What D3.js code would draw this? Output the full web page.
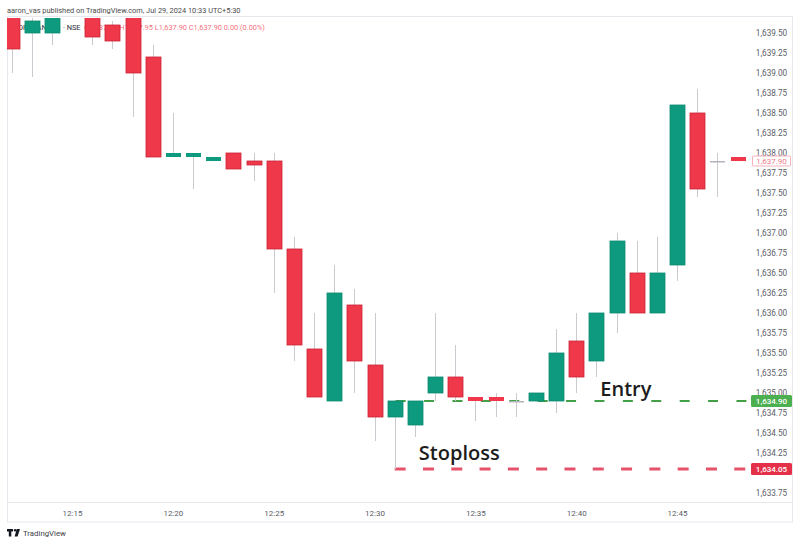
<!DOCTYPE html>
<html>
<head>
<meta charset="utf-8">
<script src="https://cdn.jsdelivr.net/npm/d3@7"></script>
<style>
  html, body { margin: 0; padding: 0; background: #ffffff; }
  svg { display: block; }
</style>
</head>
<body>
<svg id="chart" width="800" height="545"></svg>
<script>
// 1-minute bars
const times  = ["12:12","12:13","12:14","12:16","12:17","12:18","12:19","12:20","12:21","12:22",
                "12:23","12:24","12:25","12:26","12:27","12:28","12:29","12:30","12:31","12:32",
                "12:33","12:34","12:35","12:36","12:37","12:38","12:39","12:40","12:41","12:42",
                "12:43","12:44","12:45","12:46","12:47","12:48"];
const opens  = [1639.80,1639.50,1639.50,1639.80,1639.60,1639.80,1639.20,1637.95,1637.95,1637.90,
                1638.00,1637.90,1637.90,1636.80,1635.55,1634.90,1636.10,1635.35,1634.70,1634.60,
                1635.00,1635.20,1634.95,1634.95,1634.90,1634.90,1634.90,1635.65,1635.40,1636.00,
                1636.50,1636.00,1636.60,1638.50,1637.90,1637.95];
const highs  = [1639.85,1639.80,1639.85,1639.85,1639.65,1639.85,1639.35,1638.50,1638.00,1637.95,
                1638.00,1638.00,1638.00,1636.95,1636.00,1636.60,1636.30,1636.00,1634.90,1634.90,
                1636.00,1635.60,1634.95,1635.00,1635.00,1635.00,1635.80,1636.00,1636.00,1637.00,
                1636.90,1636.95,1638.60,1638.80,1638.00,1637.95];
const lows   = [1639.00,1638.95,1639.35,1639.35,1639.30,1638.45,1637.95,1637.95,1637.55,1637.90,
                1637.80,1637.65,1636.25,1635.40,1634.95,1634.90,1635.00,1634.40,1634.05,1634.45,
                1634.90,1634.90,1634.65,1634.70,1634.70,1634.90,1634.75,1635.00,1635.20,1635.75,
                1636.00,1636.00,1636.40,1637.45,1637.45,1637.90];
const closes = [1639.30,1639.65,1639.80,1639.45,1639.40,1639.00,1637.95,1638.00,1638.00,1637.95,
                1637.80,1637.85,1636.80,1635.60,1634.95,1636.25,1635.40,1634.70,1634.90,1634.90,
                1635.20,1634.95,1634.90,1634.90,1634.90,1635.00,1635.50,1635.20,1636.00,1636.90,
                1636.00,1636.50,1638.60,1637.55,1637.90,1637.90];

const timeTicks  = ["12:15","12:20","12:25","12:30","12:35","12:40","12:45"];
const priceTicks = [1633.75,1634.00,1634.25,1634.50,1634.75,1635.00,1635.25,1635.50,1635.75,1636.00,
                    1636.25,1636.50,1636.75,1637.00,1637.25,1637.50,1637.75,1638.00,1638.25,1638.50,
                    1638.75,1639.00,1639.25,1639.50];

// trade levels drawn on the chart
const levelNames  = ["Entry", "Stoploss"];
const levelPrices = [1634.90, 1634.05];
const levelStart  = "12:31";

const headerText = "aaron_vas published on TradingView.com, Jul 29, 2024 10:33 UTC+5:30";
const symbolText = "HDFCBANK · 1 · NSE";

// ---------------------------------------------------------------
const FONT = "Roboto, 'Liberation Sans', Arial, sans-serif";
const UP = "#0e9a7e", DOWN = "#f0384b", FLAT = "#b2b5be";
const UP_EDGE = "#0b8a70", DOWN_EDGE = "#c92535";

const parse = d3.timeParse("%H:%M");
const bars = times.map((t, i) => ({
  t: parse(t), o: opens[i], h: highs[i], l: lows[i], c: closes[i]
}));

const svg = d3.select("#chart");

const plot = { left: 7, top: 18, right: 750, bottom: 502 };

const x = d3.scaleTime()
  .domain([parse("12:15"), parse("12:45")])
  .range([72, 677]);
const y = d3.scaleLinear()
  .domain([1633.75, 1639.50])
  .range([493, 33]);

const step = x(parse("12:16")) - x(parse("12:15"));
const bodyW = Math.round(step * 0.75);

// frame and time-axis strip
svg.append("rect")
  .attr("x", 7.5).attr("y", 16.5)
  .attr("width", 785).attr("height", 505.5)
  .attr("fill", "none").attr("stroke", "#e6e8ee").attr("stroke-width", 1);
svg.append("line")
  .attr("x1", 7).attr("x2", 793).attr("y1", 502.5).attr("y2", 502.5)
  .attr("stroke", "#e6e8ee");

// publisher line
svg.append("text")
  .attr("x", 7).attr("y", 10).attr("dy", "0.35em")
  .attr("font-family", FONT).attr("font-size", 7.4).attr("fill", "#4a4a4a")
  .text(headerText);

// legend with the latest bar values
const last = bars[bars.length - 1], prev = bars[bars.length - 2];
const f2 = d3.format(",.2f");
const chg = last.c - prev.c;
const chgPct = chg / prev.c * 100;
const signed = v => (Math.abs(v) < 1e-9 ? "0.00" : d3.format(".2f")(v).replace("-", "\u2212"));
const legendColor = last.c >= last.o ? UP : DOWN;
const legend = svg.append("text")
  .attr("x", 13).attr("y", 27).attr("dy", "0.35em")
  .attr("font-family", FONT).attr("font-size", 7.4);
legend.append("tspan").attr("fill", "#2a2e39").text(symbolText);
legend.append("tspan").attr("x", 84).attr("fill", legendColor).attr("fill-opacity", 0.75)
  .text(`O${f2(last.o)}  H${f2(last.h)}  L${f2(last.l)}  C${f2(last.c)}  ${signed(chg)} (${signed(chgPct)}%)`);

// clip for the price pane
svg.append("clipPath").attr("id", "pane")
  .append("rect")
  .attr("x", plot.left).attr("y", plot.top)
  .attr("width", plot.right - plot.left).attr("height", plot.bottom - plot.top);

// level lines (beneath candles)
const levelColors = ["#43a047", "#e5526a"];
const levelWidths = [2.2, 3];
const levelDash   = ["10 18.4", "11 17.3"];
const x0 = x(parse(levelStart));
levelPrices.forEach((p, i) => {
  svg.append("line")
    .attr("x1", x0 + (i === 0 ? 1 : 0)).attr("x2", 751)
    .attr("y1", y(p)).attr("y2", y(p))
    .attr("stroke", levelColors[i])
    .attr("stroke-width", levelWidths[i])
    .attr("stroke-dasharray", levelDash[i]);
});

// candles
const pane = svg.append("g").attr("clip-path", "url(#pane)");
const candle = pane.selectAll("g.candle").data(bars).join("g").attr("class", "candle");
const cx = d => Math.round(x(d.t)) + 0.5;
const colorOf = d => d.c > d.o ? UP : (d.c < d.o ? DOWN : FLAT);
const edgeOf = d => d.c > d.o ? UP_EDGE : (d.c < d.o ? DOWN_EDGE : FLAT);

candle.append("line")
  .attr("x1", cx).attr("x2", cx)
  .attr("y1", d => y(d.h)).attr("y2", d => y(d.l))
  .attr("stroke", "#c9cbd1").attr("stroke-width", 1);

candle.append("rect")
  .attr("x", d => cx(d) - bodyW / 2)
  .attr("width", bodyW)
  .attr("y", d => y(Math.max(d.o, d.c)))
  .attr("height", d => Math.max(1.5, Math.abs(y(d.o) - y(d.c))))
  .attr("fill", colorOf)
  .attr("stroke", edgeOf)
  .attr("stroke-width", d => Math.abs(y(d.o) - y(d.c)) > 4 ? 0.8 : 0);

// level captions
const captionPos = [
  { t: "12:41", dx: 4, dy: -5 },
  { t: "12:32", dx: 4, dy: -9 }
];
levelNames.forEach((name, i) => {
  svg.append("text")
    .attr("x", x(parse(captionPos[i].t)) + captionPos[i].dx)
    .attr("y", y(levelPrices[i]) + captionPos[i].dy)
    .attr("font-family", "'Open Sans', 'Noto Sans', sans-serif")
    .attr("font-size", 20).attr("font-weight", 600)
    .attr("fill", "#1c1c1c")
    .text(name);
});

// price axis; labels sitting under a level tag are left out
const tagPrices = levelPrices.concat([last.c]);
const shownTicks = priceTicks.filter(p => tagPrices.every(q => Math.abs(y(p) - y(q)) > 6));
const yAxis = d3.axisRight(y)
  .tickValues(shownTicks)
  .tickFormat(d3.format(",.2f"))
  .tickSize(0).tickPadding(0);
const gy = svg.append("g").attr("transform", "translate(771.5,0)").call(yAxis);
gy.select(".domain").remove();
gy.selectAll("text")
  .attr("text-anchor", "middle")
  .attr("font-family", FONT).attr("font-size", 8.2).attr("fill", "#5a5d66");

// time axis
const xAxis = d3.axisBottom(x)
  .tickValues(timeTicks.map(parse))
  .tickFormat(d3.timeFormat("%H:%M"))
  .tickSize(0).tickPadding(0);
const gx = svg.append("g").attr("transform", "translate(0,513)").call(xAxis);
gx.select(".domain").remove();
gx.selectAll("text")
  .attr("y", 0).attr("dy", "0.35em")
  .attr("font-family", FONT).attr("font-size", 8).attr("fill", "#5a5d66");

// price tags for the levels
const tagFills = ["#4caf50", "#e5304a"];
levelPrices.forEach((p, i) => {
  svg.append("rect")
    .attr("x", 751).attr("y", y(p) - 6)
    .attr("width", 41).attr("height", 12).attr("rx", 1.5)
    .attr("fill", tagFills[i]);
  svg.append("text")
    .attr("x", 771.5).attr("y", y(p)).attr("dy", "0.35em")
    .attr("text-anchor", "middle")
    .attr("font-family", FONT).attr("font-size", 8).attr("font-weight", 500)
    .attr("fill", "#ffffff")
    .text(f2(p));
});

// last price tag
svg.append("rect")
  .attr("x", 752.5).attr("y", y(last.c) - 5)
  .attr("width", 38).attr("height", 10).attr("rx", 1)
  .attr("fill", "#ffffff").attr("stroke", "#f5b2bc").attr("stroke-width", 1);
svg.append("text")
  .attr("x", 771.5).attr("y", y(last.c)).attr("dy", "0.35em")
  .attr("text-anchor", "middle")
  .attr("font-family", FONT).attr("font-size", 8)
  .attr("fill", "#f07a8a")
  .text(f2(last.c));

// footer brand mark
const brand = svg.append("g").attr("transform", "translate(7,529)");
brand.append("path").attr("d", "M0,0 H6 V2.6 H4.3 V7.6 H1.8 V2.6 H0 Z").attr("fill", "#131722");
brand.append("circle").attr("cx", 8.2).attr("cy", 1.3).attr("r", 1.3).attr("fill", "#131722");
brand.append("path").attr("d", "M9.8,0 H13 L10.6,7.6 H7.6 Z").attr("fill", "#131722");
svg.append("text")
  .attr("x", 23).attr("y", 533).attr("dy", "0.35em")
  .attr("font-family", FONT).attr("font-size", 7.8).attr("fill", "#3a3d45")
  .text("TradingView");
</script>
</body>
</html>
